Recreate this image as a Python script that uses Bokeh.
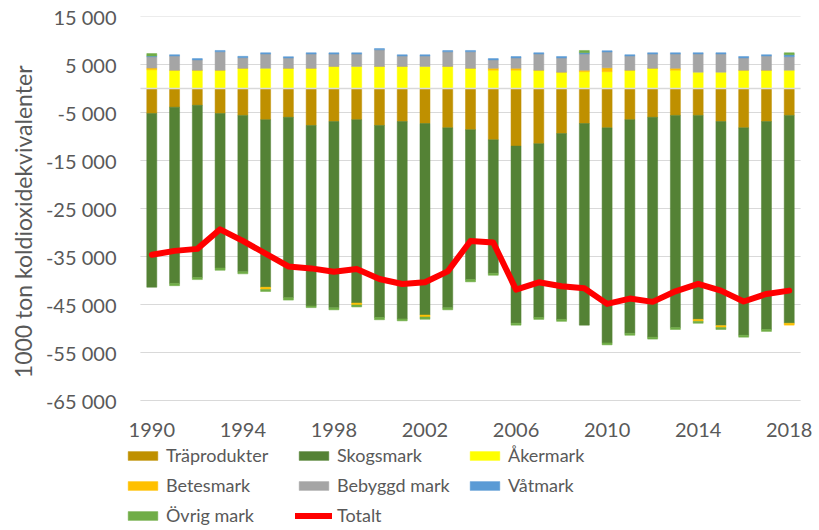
from bokeh.plotting import figure
from bokeh.models import (FixedTicker, CustomJSTickFormatter, Legend,
                          LegendItem, Range1d, Title)
from bokeh.embed import file_html
from bokeh.resources import INLINE

years = list(range(1990, 2019))

traprodukter = [-5200, -3900, -3500, -5200, -5600, -6500, -6000, -7700, -6900, -6500,
                -7700, -6900, -7300, -8200, -8600, -10700, -12000, -11500, -9400, -7300,
                -8200, -6500, -6000, -5600, -5600, -6900, -8200, -6900, -5600]
skogsmark = [-36200, -36700, -35900, -32200, -32600, -34900, -37600, -37600, -38800, -38200,
             -40000, -41100, -39900, -37500, -31200, -27800, -36900, -36200, -38700, -42000,
             -44800, -44500, -45800, -44200, -42500, -42500, -43200, -43300, -43300]
akermark = [3900, 3800, 3800, 3800, 4200, 4200, 4200, 4200, 4600, 4600,
            4600, 4600, 4600, 4600, 4200, 3800, 3800, 3800, 3400, 3500,
            3500, 3800, 4200, 3800, 3400, 3400, 3800, 3800, 3800]
betesmark = [350, 0, 0, 0, 0, -480, 0, 0, 0, -400,
             0, 0, -400, 0, 0, 400, 400, 0, 0, 300,
             800, 0, 0, 400, -400, -400, 0, 0, -400]
bebyggd = [2370, 2970, 2160, 3850, 2230, 2980, 2160, 2980, 2570, 2570,
           3450, 2160, 2160, 3040, 3450, 1760, 2160, 3380, 2970, 3380,
           3310, 2970, 2980, 2980, 3790, 3790, 2570, 2970, 2840]
vatmark = [150, 270, 270, 270, 270, 270, 270, 270, 270, 270,
           270, 270, 270, 270, 270, 270, 300, 270, 300, 270,
           270, 270, 270, 270, 270, 270, 300, 270, 400]
ovrig = [500, -480, -410, -480, -410, -410, -480, -350, -410, -410,
         -480, -410, -480, -410, -480, -410, -410, -410, -410, 470,
         -410, -410, -410, -410, -410, -410, -410, -410, 400]
totalt = [-34650, -33830, -33410, -29340, -31760, -34380, -37070, -37480, -38170, -37620,
          -39690, -40720, -40380, -38100, -31760, -32100, -41900, -40380, -41210, -41620,
          -44870, -43760, -44450, -42250, -40720, -42110, -44380, -42800, -42110]

y_ticks = list(range(-65000, 15001, 10000))
x_ticks = list(range(1990, 2019, 4))

series = [
    ("Träprodukter", traprodukter, "#BF9000"),
    ("Skogsmark", skogsmark, "#548235"),
    ("Åkermark", akermark, "#FFFF00"),
    ("Betesmark", betesmark, "#FFC000"),
    ("Bebyggd mark", bebyggd, "#A5A5A5"),
    ("Våtmark", vatmark, "#5B9BD5"),
    ("Övrig mark", ovrig, "#70AD47"),
]

FONT = "Lato"
TXT = "#595959"
GRID = "#D9D9D9"

x_lo, x_hi = years[0] - 0.5, years[-1] + 0.5

# frame extends left, right and down so legend and axis labels are not clipped
p = figure(width=819, height=530, output_backend="svg", toolbar_location=None,
           x_range=Range1d(x_lo - 0.699, x_hi + 0.83), y_range=Range1d(-92083, 15000),
           min_border_left=120, min_border_right=0, min_border_top=16,
           min_border_bottom=0)
p.outline_line_color = None
p.xgrid.visible = False
p.ygrid.visible = False

# horizontal gridlines over the category span only
p.segment(x0=[x_lo] * len(y_ticks), x1=[x_hi] * len(y_ticks), y0=y_ticks, y1=y_ticks,
          line_color=GRID, line_width=1)

pos = [0.0] * len(years)
neg = [0.0] * len(years)
items = []
for name, vals, col in series:
    bottoms, tops = [], []
    for i, v in enumerate(vals):
        if v >= 0:
            bottoms.append(pos[i]); tops.append(pos[i] + v); pos[i] += v
        else:
            bottoms.append(neg[i] + v); tops.append(neg[i]); neg[i] += v
    r = p.vbar(x=years, bottom=bottoms, top=tops, width=0.44, fill_color=col,
               line_color=col, line_width=0.5)
    items.append(LegendItem(label=name, renderers=[r]))

# category axis line at zero
p.segment(x0=[x_lo], x1=[x_hi], y0=[0], y1=[0], line_color=GRID, line_width=1.5)

rl = p.line(years, totalt, line_color="#FF0000", line_width=6, line_join="round",
            line_cap="round")
items.append(LegendItem(label="Totalt", renderers=[rl]))

# x axis drawn at the bottom of the value range
p.xaxis.fixed_location = -65000
p.xaxis.ticker = FixedTicker(ticks=x_ticks)
p.xaxis.axis_line_color = None
p.xaxis.major_tick_line_color = None
p.xaxis.minor_tick_line_color = None
p.xaxis.major_tick_out = 0
p.xaxis.minor_tick_out = 0
p.xaxis.major_tick_in = 0
p.xaxis.minor_tick_in = 0
p.xaxis.major_label_standoff = 22
p.xaxis.major_label_text_font = FONT
p.xaxis.major_label_text_font_size = "20px"
p.xaxis.major_label_text_color = TXT

p.yaxis.ticker = FixedTicker(ticks=y_ticks)
p.yaxis.formatter = CustomJSTickFormatter(code="""
var s = Math.abs(tick).toFixed(0).replace(/\\B(?=(\\d{3})+(?!\\d))/g, " ");
return (tick < 0 ? "-" : "") + s;
""")
p.yaxis.axis_line_color = None
p.yaxis.major_tick_line_color = None
p.yaxis.minor_tick_line_color = None
p.yaxis.major_tick_out = 0
p.yaxis.minor_tick_out = 0
p.yaxis.major_tick_in = 0
p.yaxis.minor_tick_in = 0
p.yaxis.major_label_standoff = 8
p.yaxis.major_label_text_font = FONT
p.yaxis.major_label_text_font_size = "20px"
p.yaxis.major_label_text_color = TXT

# value-axis title, placed along the value range
ytitle = Title(text="1000 ton koldioxidekvivalenter", align="right", offset=49,
               standoff=12, text_font=FONT, text_font_size="23px",
               text_font_style="normal", text_color=TXT)
p.add_layout(ytitle, "left")

legend = Legend(items=items, location=(0, 4), orientation="horizontal", ncols=3,
                glyph_width=37, glyph_height=11, label_standoff=5, label_width=121,
                label_height=21, spacing=8, padding=0, margin=0,
                label_text_font=FONT, label_text_font_size="18px",
                label_text_color=TXT, border_line_alpha=0, background_fill_alpha=0)
p.add_layout(legend, "center")

open("out.html", "w").write(file_html(p, INLINE))
